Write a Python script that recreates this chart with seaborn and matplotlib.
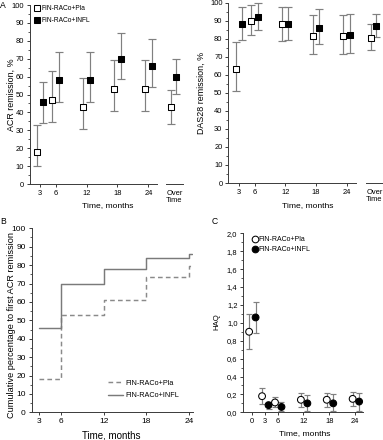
import numpy as np
import pandas as pd
import matplotlib
matplotlib.use("Agg")
import matplotlib.pyplot as plt
from matplotlib.lines import Line2D
from matplotlib.ticker import MultipleLocator
import seaborn as sns

# ---------------- data ----------------
GROUPS = ["FIN-RACo+Pla", "FIN-RACo+INFL"]
months = [3, 6, 12, 18, 24]

acr_pla = [18, 47, 43, 53, 53]
acr_pla_lo = [10, 34.6, 31, 41, 41]
acr_pla_hi = [33, 63.3, 59.4, 69.3, 69.3]
acr_infl = [46, 58, 58, 70, 66]
acr_infl_lo = [34, 45.7, 45.8, 58.5, 54]
acr_infl_hi = [57.2, 73.6, 73.6, 84.2, 80.8]
acr_over = [42.8, 59.7]
acr_over_lo = [33.3, 50.1]
acr_over_hi = [52.5, 69.6]

das_pla = [63, 90, 88, 81.5, 81.5]
das_pla_lo = [51, 82, 79, 71.5, 71.5]
das_pla_hi = [78, 98.5, 97.5, 93, 93]
das_infl = [88, 92, 88, 86, 82]
das_infl_lo = [79.5, 85, 79.5, 77, 72]
das_infl_hi = [97.5, 100, 97.5, 96.5, 93.5]
das_over = [80.5, 87]
das_over_lo = [73.5, 81]
das_over_hi = [88, 93.5]

cum_time = [3, 6, 12, 18, 24, 24.4]
cum_pla = [18, 53, 61, 73.5, 79.5, 79.5]
cum_infl = [46, 70, 78, 84, 86, 86]

haq_months = [0, 3, 6, 12, 18, 24]
haq_pla = [0.90, 0.18, 0.11, 0.14, 0.14, 0.15]
haq_pla_lo = [0.71, 0.09, 0.06, 0.06, 0.06, 0.07]
haq_pla_hi = [1.10, 0.27, 0.17, 0.22, 0.22, 0.23]
haq_infl = [1.06, 0.08, 0.06, 0.10, 0.10, 0.12]
haq_infl_lo = [0.89, 0.04, 0.01, 0.01, 0.01, 0.02]
haq_infl_hi = [1.23, 0.12, 0.11, 0.19, 0.20, 0.22]
haq_tick_labels = ["0,0", "0,2", "0,4", "0,6", "0,8", "1,0", "1,2", "1,4", "1,6", "1,8", "2,0"]

# ---------------- style ----------------
sns.set_theme(style="ticks")
plt.rcParams['font.family'] = ['Liberation Sans', 'DejaVu Sans']
plt.rcParams.update({
    "axes.linewidth": 0.7,
    "axes.edgecolor": "#3a3a3a",
    "xtick.color": "#3a3a3a",
    "ytick.color": "#3a3a3a",
    "xtick.labelcolor": "black",
    "ytick.labelcolor": "black",
    "xtick.major.width": 0.7,
    "ytick.major.width": 0.7,
    "ytick.minor.width": 0.6,
    "xtick.major.size": 2.2,
    "ytick.major.size": 2.2,
    "ytick.minor.size": 1.2,
    "text.color": "black",
    "axes.labelcolor": "black",
})

EB = "#808080"
W, H = 383, 440
fig = plt.figure(figsize=(W / 100, H / 100), dpi=100)


def px_axes(x0, x1, ytop, ybot):
    return fig.add_axes([x0 / W, 1 - ybot / H, (x1 - x0) / W, (ybot - ytop) / H])


def long_df(xs, a, alo, ahi, b, blo, bhi):
    n = len(xs)
    return pd.DataFrame({
        "x": list(xs) * 2,
        "value": list(a) + list(b),
        "lo": list(alo) + list(blo),
        "hi": list(ahi) + list(bhi),
        "group": [GROUPS[0]] * n + [GROUPS[1]] * n,
    })


def draw_points(ax, df, offsets, marker, size, capsize):
    df = df.copy()
    df["xpos"] = df["x"] + df["group"].map(offsets)
    ax.errorbar(df["xpos"], df["value"],
                yerr=[df["value"] - df["lo"], df["hi"] - df["value"]],
                fmt="none", ecolor=EB, elinewidth=0.85, capsize=capsize,
                capthick=0.85, zorder=2, clip_on=False)
    sns.scatterplot(data=df, x="xpos", y="value", hue="group",
                    palette={GROUPS[0]: "white", GROUPS[1]: "black"},
                    style="group", markers={GROUPS[0]: marker, GROUPS[1]: marker},
                    s=size, edgecolor="black", linewidth=0.75, legend=False,
                    ax=ax, zorder=3, clip_on=False)
    ax.set_xlabel("")
    ax.set_ylabel("")


def remission_panel(main_box, over_box, xlim, ylab, ylab_x, xlab_x, vals, over_vals):
    ax = px_axes(*main_box)
    axo = px_axes(*over_box)
    df = long_df(months, *vals)
    draw_points(ax, df, {GROUPS[0]: -0.62, GROUPS[1]: 0.62}, "s", 19, 2.7)
    dfo = long_df([0], *over_vals)
    draw_points(axo, dfo, {GROUPS[0]: -0.45, GROUPS[1]: 0.2}, "s", 19, 2.7)
    for a in (ax, axo):
        a.set_ylim(0, 100)
    sns.despine(ax=ax)
    sns.despine(ax=axo, left=True)
    ax.set_xlim(*xlim)
    ax.set_xticks(months)
    ax.set_yticks(np.arange(0, 101, 10))
    ax.yaxis.set_minor_locator(MultipleLocator(5))
    ax.tick_params(axis="both", labelsize=5.4, pad=2)
    axo.set_xlim(-1, 1)
    axo.set_yticks([])
    axo.set_xticks([0])
    axo.set_xticklabels(["Over\nTime"], fontsize=5.4, linespacing=1.0)
    axo.tick_params(axis="x", length=0, pad=4.0)
    ax.set_ylabel(ylab, fontsize=6.4)
    ax.yaxis.set_label_coords(ylab_x, 0.5)
    ax.set_xlabel("Time, months", fontsize=6.1)
    ax.xaxis.set_label_coords(xlab_x, -0.103)
    return ax, axo


# ---------------- panel A (ACR) ----------------
axA, axAo = remission_panel((30, 156.7, 5, 184), (166, 183, 5, 184), (1.05, 25.6),
                            "ACR remission, %", -0.115, 0.612,
                            (acr_pla, acr_pla_lo, acr_pla_hi, acr_infl, acr_infl_lo, acr_infl_hi),
                            ([acr_over[0]], [acr_over_lo[0]], [acr_over_hi[0]],
                             [acr_over[1]], [acr_over_lo[1]], [acr_over_hi[1]]))
handles = [Line2D([], [], marker="s", ls="none", mfc="white", mec="black", mew=0.75, ms=4.2),
           Line2D([], [], marker="s", ls="none", mfc="black", mec="black", mew=0.75, ms=4.2)]
axA.legend(handles, GROUPS, loc="upper left", bbox_to_anchor=(-0.005, 1.025), frameon=False,
           fontsize=4.8, handletextpad=0.15, handlelength=1.0, labelspacing=0.75, borderpad=0.2)

# ---------------- panel A (DAS28) ----------------
axD, axDo = remission_panel((228.3, 355.7, 2.7, 183), (366, 383, 2.7, 183), (0.85, 25.8),
                            "DAS28 remission, %", -0.18, 0.622,
                            (das_pla, das_pla_lo, das_pla_hi, das_infl, das_infl_lo, das_infl_hi),
                            ([das_over[0]], [das_over_lo[0]], [das_over_hi[0]],
                             [das_over[1]], [das_over_lo[1]], [das_over_hi[1]]))

# ---------------- panel B ----------------
axB = px_axes(31.7, 192.7, 228.3, 412.3)
cum_df = pd.DataFrame({
    "time": cum_time * 2,
    "pct": cum_pla + cum_infl,
    "group": [GROUPS[0]] * len(cum_time) + [GROUPS[1]] * len(cum_time),
})
sns.lineplot(data=cum_df, x="time", y="pct", hue="group", style="group",
             palette={GROUPS[0]: "#8a8a8a", GROUPS[1]: "#7a7a7a"},
             dashes={GROUPS[0]: (3.2, 2.2), GROUPS[1]: ""},
             estimator=None, drawstyle="steps-post", linewidth=1.05, ax=axB, legend=False)
sns.despine(ax=axB)
axB.set_xlim(1.93, 24.5)
axB.set_ylim(0, 100)
axB.set_xticks([3, 6, 12, 18, 24])
axB.set_yticks(np.arange(0, 101, 10))
axB.yaxis.set_minor_locator(MultipleLocator(5))
axB.tick_params(axis="both", labelsize=6.0, pad=2)
axB.set_xlabel("Time, months", fontsize=7)
axB.xaxis.set_label_coords(0.491, -0.098)
axB.set_ylabel("Cumulative percentage to first ACR remission", fontsize=6.6)
axB.yaxis.set_label_coords(-0.1, 0.474)
hB = [Line2D([], [], color="#8a8a8a", lw=1.05, dashes=(3.2, 2.2)),
      Line2D([], [], color="#7a7a7a", lw=1.05)]
axB.legend(hB, GROUPS, loc="upper left", bbox_to_anchor=(0.44, 0.205), frameon=False,
           fontsize=5.2, handlelength=2.2, handletextpad=0.25, labelspacing=0.75, borderpad=0.2)

# ---------------- panel C ----------------
axC = px_axes(243.3, 363, 233.3, 412.3)
haq_df = long_df(haq_months, haq_pla, haq_pla_lo, haq_pla_hi, haq_infl, haq_infl_lo, haq_infl_hi)
draw_points(axC, haq_df, {GROUPS[0]: -0.6, GROUPS[1]: 0.9}, "o", 24, 2.5)
sns.despine(ax=axC)
axC.set_xlim(-1.95, 25.8)
axC.set_ylim(0, 2.0)
axC.set_xticks(haq_months)
axC.set_yticks(np.arange(0, 2.01, 0.2))
axC.set_yticklabels(haq_tick_labels)
axC.yaxis.set_minor_locator(MultipleLocator(0.1))
axC.tick_params(axis="both", labelsize=5.4, pad=2)
axC.set_xlabel("Time, months", fontsize=6.1)
axC.xaxis.set_label_coords(0.515, -0.1)
axC.set_ylabel("HAQ", fontsize=5.6)
axC.yaxis.set_label_coords(-0.19, 0.506)
hC = [Line2D([], [], marker="o", ls="none", mfc="white", mec="black", mew=0.75, ms=4.8),
      Line2D([], [], marker="o", ls="none", mfc="black", mec="black", mew=0.75, ms=4.8)]
axC.legend(hC, GROUPS, loc="upper left", bbox_to_anchor=(0.03, 1.01), frameon=False,
           fontsize=5.0, handletextpad=0.0, handlelength=1.0, labelspacing=0.45, borderpad=0.2)

# ---------------- panel letters ----------------
fig.text(3 / W, 1 - 5 / H, "A", fontsize=6.2, va="center", ha="center")
fig.text(3 / W, 1 - 221 / H, "B", fontsize=6.2, va="center", ha="center")
fig.text(215 / W, 1 - 221.7 / H, "C", fontsize=6.2, va="center", ha="center")

fig.savefig("out.png", dpi=100)
